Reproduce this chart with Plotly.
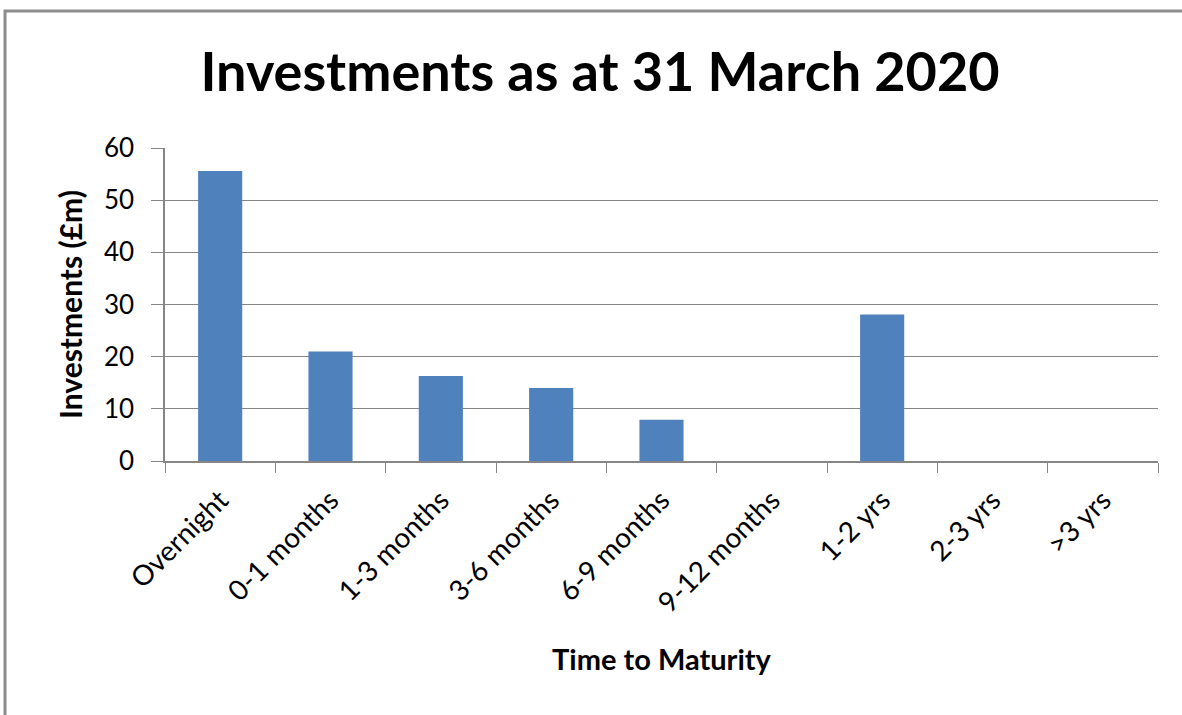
import plotly.graph_objects as go

categories = ["Overnight", "0-1 months", "1-3 months", "3-6 months", "6-9 months",
              "9-12 months", "1-2 yrs", "2-3 yrs", ">3 yrs"]
values = [55.6, 21.0, 16.3, 14.0, 7.9, 0, 28.1, 0, 0]
y_ticks = [0, 10, 20, 30, 40, 50, 60]

W, H = 1182, 715
L, R, T, B = 165, 24, 148, 254
pw, ph = W - L - R, H - T - B

def px_x(x):
    return (x - L) / pw

def px_y(y):
    return (H - B - y) / ph

FONT = "Lato"

fig = go.Figure(go.Bar(x=categories, y=values, marker=dict(color="#4F81BD", line=dict(width=0)),
                       width=0.4))

fig.update_layout(
    width=W, height=H,
    margin=dict(l=L, r=R, t=T, b=B, autoexpand=False),
    paper_bgcolor="white", plot_bgcolor="white",
    showlegend=False,
    font=dict(family=FONT, color="#000000"),
    title=dict(text="<b>Investments as at 31 March 2020</b>", x=600 / W, xanchor="center",
               y=1 - 72 / H, yanchor="middle", font=dict(size=54, family=FONT, color="#000")),
    xaxis=dict(
        type="category", tickson="boundaries", ticks="outside", ticklen=10, tickcolor="#868686",
        showline=True, linecolor="#868686", linewidth=1.5, showgrid=False,
        tickangle=-45, tickfont=dict(size=28, family=FONT, color="#000"), ticklabelstandoff=10,
        title=dict(text="<b>Time to Maturity</b>", font=dict(size=29, family=FONT, color="#000"), standoff=32),
    ),
    yaxis=dict(
        range=[0, 60], tickvals=y_ticks, ticks="outside", ticklen=12, tickcolor="#868686",
        showline=True, linecolor="#868686", linewidth=1.5,
        showgrid=True, gridcolor="#868686", gridwidth=1, zeroline=False,
        tickfont=dict(size=26, family=FONT, color="#000"), ticklabelstandoff=12,
        title=dict(text="<b>Investments (£m)</b>", font=dict(size=30, family=FONT, color="#000"), standoff=12),
    ),
    shapes=[dict(type="rect", xref="paper", yref="paper",
                 x0=px_x(5), x1=px_x(1195), y0=px_y(730), y1=px_y(11),
                 line=dict(color="#8c8c8c", width=3), layer="below")],
)

fig.write_html("out.html")
